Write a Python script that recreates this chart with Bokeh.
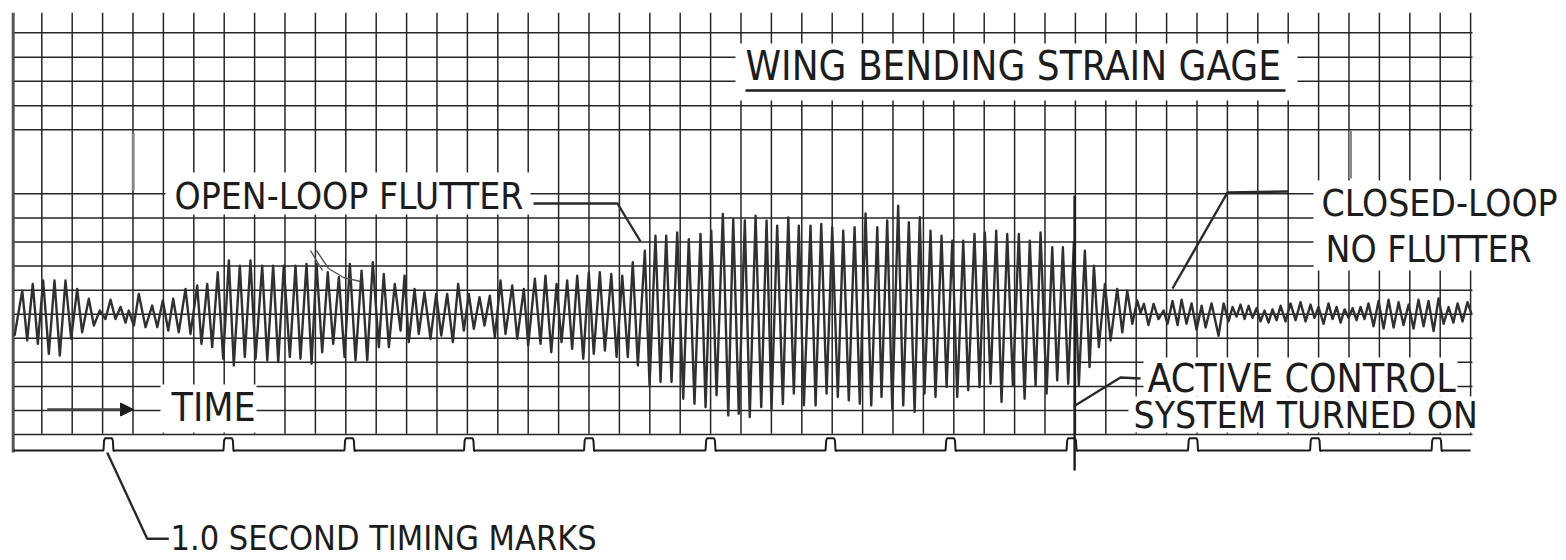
from bokeh.plotting import figure
from bokeh.models import Range1d, Arrow, NormalHead
from bokeh.core.properties import value
from bokeh.embed import file_html
from bokeh.resources import INLINE

# ---------------- values read from the strip-chart record ----------------
# wing bending strain gage trace: time (s from left edge) and deflection (chart divisions)
trace_t = [
    0.011, 0.075, 0.116, 0.162, 0.204, 0.248, 0.295, 0.342, 0.386, 0.433,
    0.480, 0.530, 0.571, 0.626, 0.668, 0.717, 0.764, 0.806, 0.847, 0.889,
    0.930, 0.957, 0.999, 1.040, 1.096, 1.151, 1.193, 1.239, 1.284, 1.325,
    1.371, 1.427, 1.468, 1.524, 1.559, 1.607, 1.648, 1.694, 1.739, 1.786,
    1.827, 1.877, 1.918, 1.965, 2.007, 2.062, 2.104, 2.153, 2.195, 2.241,
    2.291, 2.338, 2.379, 2.429, 2.471, 2.512, 2.559, 2.605, 2.650, 2.697,
    2.744, 2.788, 2.835, 2.885, 2.932, 2.978, 3.028, 3.069, 3.111, 3.160,
    3.208, 3.241, 3.276, 3.324, 3.359, 3.406, 3.456, 3.503, 3.545, 3.594,
    3.641, 3.685, 3.732, 3.773, 3.815, 3.862, 3.903, 3.947, 3.989, 4.036,
    4.077, 4.133, 4.174, 4.229, 4.265, 4.320, 4.367, 4.408, 4.456, 4.500,
    4.541, 4.588, 4.629, 4.671, 4.721, 4.767, 4.808, 4.858, 4.900, 4.953,
    4.997, 5.044, 5.090, 5.131, 5.173, 5.231, 5.270, 5.319, 5.361, 5.408,
    5.452, 5.499, 5.549, 5.595, 5.642, 5.692, 5.734, 5.781, 5.825, 5.877,
    5.922, 5.963, 6.009, 6.059, 6.100, 6.148, 6.195, 6.239, 6.280, 6.327,
    6.374, 6.419, 6.465, 6.506, 6.548, 6.603, 6.645, 6.692, 6.736, 6.783,
    6.829, 6.874, 6.920, 6.968, 7.011, 7.059, 7.106, 7.156, 7.191, 7.238,
    7.280, 7.329, 7.371, 7.417, 7.465, 7.508, 7.547, 7.597, 7.638, 7.688,
    7.730, 7.777, 7.818, 7.868, 7.909, 7.961, 8.003, 8.047, 8.094, 8.141,
    8.185, 8.232, 8.279, 8.328, 8.376, 8.419, 8.467, 8.508, 8.558, 8.605,
    8.646, 8.693, 8.737, 8.784, 8.825, 8.875, 8.914, 8.950, 8.991, 9.041,
    9.088, 9.143, 9.185, 9.226, 9.268, 9.309, 9.336, 9.364, 9.402, 9.444,
    9.485, 9.527, 9.560, 9.601, 9.643, 9.676, 9.717, 9.759, 9.800, 9.842,
    9.875, 9.924, 9.982, 10.024, 10.065, 10.098, 10.131, 10.164, 10.198, 10.231,
    10.264, 10.297, 10.330, 10.363, 10.396, 10.429, 10.463, 10.496, 10.537, 10.578,
    10.620, 10.661, 10.703, 10.744, 10.777, 10.810, 10.852, 10.893, 10.926, 10.960,
    10.993, 11.026, 11.059, 11.092, 11.125, 11.158, 11.191, 11.224, 11.266, 11.307,
    11.349, 11.390, 11.432, 11.473, 11.514, 11.556, 11.597, 11.638, 11.680, 11.721,
    11.763, 11.804, 11.846, 11.887, 11.927, 11.962, 12.003, 12.044, 12.077,
]
trace_v = [
    -0.90, 0.98, -1.09, 1.26, -1.23, 1.40, -1.65, 1.40, -1.72, 1.40,
    -1.02, 1.05, -0.75, 0.64, -0.47, 0.15, -0.20, 0.60, -0.20, 0.30,
    -0.35, 0.15, -0.47, 0.84, -0.54, 0.36, -0.54, 0.57, -0.68, 0.64,
    -0.75, 1.05, -0.82, 1.19, -1.23, 1.26, -1.37, 1.74, -1.85, 2.23,
    -2.13, 2.02, -1.78, 2.23, -1.85, 2.02, -1.92, 2.02, -1.99, 2.02,
    -1.78, 2.02, -1.85, 2.09, -2.06, 2.09, -1.58, 1.74, -1.23, 1.54,
    -1.78, 2.09, -1.92, 1.81, -1.92, 2.16, -1.37, 1.67, -1.37, 1.26,
    -0.68, 1.60, -1.16, 1.05, -0.82, 0.91, -1.02, 0.84, -0.89, 0.84,
    -1.16, 1.26, -0.68, 0.84, -0.61, 0.71, -0.47, 0.77, -0.96, 1.40,
    -0.82, 1.19, -1.02, 1.05, -1.30, 1.47, -1.23, 1.60, -1.58, 1.26,
    -1.16, 1.40, -1.44, 1.60, -1.85, 1.74, -1.65, 1.74, -1.51, 1.67,
    -1.78, 1.60, -1.78, 2.16, -2.13, 2.64, -2.96, 3.26, -2.82, 3.26,
    -2.82, 3.40, -3.51, 3.12, -3.72, 3.33, -3.86, 3.47, -3.37, 4.16,
    -4.21, 3.96, -4.13, 3.89, -4.27, 4.09, -3.86, 3.89, -3.93, 3.68,
    -3.73, 4.02, -3.30, 3.68, -3.78, 3.68, -3.79, 3.75, -3.30, 3.61,
    -3.44, 3.47, -3.58, 3.61, -3.72, 4.19, -3.79, 3.61, -3.44, 3.89,
    -3.93, 4.51, -3.79, 3.82, -4.06, 4.03, -3.30, 3.47, -3.44, 3.26,
    -3.03, 3.05, -3.44, 3.05, -3.16, 3.33, -3.03, 3.40, -2.89, 3.47,
    -3.65, 3.33, -2.96, 3.33, -3.51, 3.05, -2.96, 3.40, -3.30, 2.78,
    -2.75, 2.78, -2.89, 2.99, -2.96, 2.64, -2.20, 2.02, -1.37, 1.26,
    -1.09, 1.05, -0.75, 0.98, -0.40, 0.57, 0.05, 0.43, -0.45, 0.43,
    -0.20, 0.15, -0.40, 0.55, -0.45, 0.60, -0.40, 0.45, -0.65, 0.35,
    -0.55, 0.45, -0.90, 0.45, -0.30, 0.30, -0.10, 0.40, -0.20, 0.35,
    -0.15, 0.25, -0.30, 0.15, -0.35, 0.20, -0.25, 0.35, -0.30, 0.45,
    -0.25, 0.50, -0.30, 0.40, -0.15, 0.30, -0.40, 0.45, -0.20, 0.30,
    -0.35, 0.20, -0.15, 0.25, -0.25, 0.30, -0.20, 0.45, -0.50, 0.55,
    -0.60, 0.60, -0.55, 0.50, -0.45, 0.40, -0.60, 0.60, -0.50, 0.55,
    -0.70, 0.65, -0.40, 0.30, -0.35, 0.45, -0.30, 0.50, 0.00,
]
# 1.0 second timing marks (s from left edge)
timing_marks_t = [0.789, 1.783, 2.785, 3.775, 4.769, 5.775, 6.769,
                  7.763, 8.765, 9.771, 10.782, 11.788]
# instant the active control system was turned on (s)
control_on_t = 8.79

label_title = "WING BENDING STRAIN GAGE"
label_open = "OPEN-LOOP FLUTTER"
label_time = "TIME"
label_closed = ["CLOSED-LOOP", "NO FLUTTER"]
label_active = ["ACTIVE CONTROL", "SYSTEM TURNED ON"]
label_marks = "1.0 SECOND TIMING MARKS"

# ---------------- layout helpers (page pixel -> data) ----------------
W, H = 1566, 560
PX_PER_S, T0_PX = 120.75, 12.7
PX_PER_DIV, V0_PX = 24.07, 313.7


def tx(px):
    return (px - T0_PX) / PX_PER_S


def vy(py):
    return (V0_PX - py) / PX_PER_DIV


FONT = "'Liberation Sans Narrow', 'DejaVu Sans Condensed', 'Liberation Sans', sans-serif"
INK = "#1c1c1c"
GRID = "#262626"

p = figure(width=W, height=H, output_backend="svg", toolbar_location=None,
           title=None, x_axis_location=None, y_axis_location=None,
           x_range=Range1d(tx(0), tx(W)), y_range=Range1d(vy(H), vy(0)),
           min_border=0, outline_line_color=None,
           background_fill_color="white", border_fill_color="white")
p.xgrid.visible = False
p.ygrid.visible = False

# ---- recorder paper grid ----
x_left, x_right = tx(12.7), tx(1472)
top_v, bot_v = vy(12.3), vy(433.3)
vx = [tx(41.3 + 30.4 * k) for k in range(48)]
p.multi_line(xs=[[x, x] for x in vx], ys=[[bot_v, top_v]] * len(vx),
             line_color=GRID, line_width=1.5)
h_upper = [vy(py) for py in (32.3, 56.7, 80.7, 105.2, 129.3)]
h_lower = [5 - j for j in range(11)]
hs = h_upper + h_lower
p.multi_line(xs=[[x_left, x_right]] * len(hs), ys=[[h, h] for h in hs],
             line_color=GRID, line_width=1.5)

# ---- blank patches behind the hand lettering ----
boxes = [(735, 1297, 43, 100), (165, 530, 172, 214), (160, 256, 384, 432),
         (1313, 1580, 180, 270), (1143, 1457, 357, 396), (1128, 1476, 396, 432)]
p.quad(left=[tx(b[0]) for b in boxes], right=[tx(b[1]) for b in boxes],
       top=[vy(b[2]) for b in boxes], bottom=[vy(b[3]) for b in boxes],
       fill_color="white", line_color=None)

# left edge of the record
p.line([x_left, x_left], [vy(452), vy(12.3)], line_color="#555", line_width=3)

# stray pen marks of another channel
p.multi_line(xs=[[tx(132.7), tx(132.7)], [tx(1350), tx(1350)]],
             ys=[[vy(133), vy(190)], [vy(130), vy(178)]],
             line_color="#8a8a8a", line_width=3)

# ---- strain trace ----
p.line(trace_t, trace_v, line_color="#303030", line_width=2.4, line_join="round")

# ---- timing trace ----
TB, TT = vy(450.0), vy(437.7)
tt_x, tt_y = [tx(13)], [TB]
for m in timing_marks_t:
    for dpx, lvl in ((-5.0, TB), (-4.4, TT - 0.1), (-3.4, TT), (3.4, TT),
                     (4.4, TT - 0.1), (5.0, TB - 0.02), (6.5, TB)):
        tt_x.append(m + dpx / PX_PER_S)
        tt_y.append(lvl)
tt_x.append(tx(1470))
tt_y.append(TB)
p.line(tt_x, tt_y, line_color=INK, line_width=2)

# ---- control-on event marker ----
p.line([control_on_t, control_on_t], [vy(195), vy(470)], line_color=INK, line_width=2.4)

# ---- leader lines ----
leaders = [
    [(106.7, 452), (146.7, 538.3), (168.3, 538.3)],
    [(533, 203), (617, 203), (640, 241)],
    [(1288, 191), (1227, 192), (1172, 288)],
    [(1140, 378), (1120, 377), (1073, 406)],
]
p.multi_line(xs=[[tx(a) for a, b in L] for L in leaders],
             ys=[[vy(b) for a, b in L] for L in leaders],
             line_color="#2a2a2a", line_width=2.4)

# pen scribble near the first bump
p.multi_line(xs=[[tx(310), tx(322)], [tx(316), tx(328)], [tx(328), tx(343), tx(360)]],
             ys=[[vy(250), vy(270)], [vy(250), vy(268)], [vy(268), vy(277), vy(281)]],
             line_color="#555", line_width=1.4)

# TIME arrow
p.add_layout(Arrow(end=NormalHead(size=13, fill_color=INK, line_color=INK),
                   x_start=tx(46.7), y_start=vy(409), x_end=tx(133), y_end=vy(409),
                   line_color="#444", line_width=2.5))

# title underline
p.line([tx(745), tx(1285)], [vy(90), vy(90)], line_color=INK, line_width=2.6)

# ---- lettering (y = middle of the capitals) ----
txt = dict(text_font=value(FONT), text_color=INK, text_baseline="middle",
           text_align="left")
p.text(x=[tx(745)], y=[vy(65)], text=[label_title], text_font_size="40px", **txt)
p.text(x=[tx(171), tx(1147)], y=[vy(406.7), vy(378)],
       text=[label_time, label_active[0]], text_font_size="39px", **txt)
p.text(x=[tx(174), tx(1133), tx(1321), tx(1325)],
       y=[vy(195.5), vy(414.7), vy(203), vy(249)],
       text=[label_open, label_active[1], label_closed[0], label_closed[1]],
       text_font_size="37px", **txt)
p.text(x=[tx(170)], y=[vy(537.5)], text=[label_marks], text_font_size="34px", **txt)

open("out.html", "w").write(file_html(p, INLINE))
